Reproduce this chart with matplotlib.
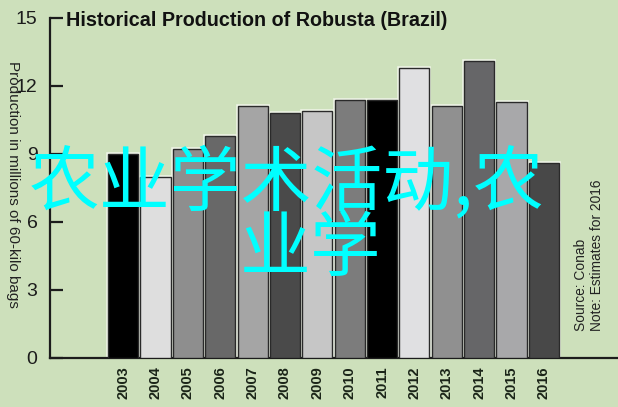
import matplotlib
matplotlib.use("Agg")
import matplotlib.pyplot as plt
import numpy as np

# Robusta production in Brazil, millions of 60-kilo bags
years = ["2003", "2004", "2005", "2006", "2007", "2008", "2009",
         "2010", "2011", "2012", "2013", "2014", "2015", "2016"]
production = [9.0, 8.0, 9.2, 9.8, 11.1, 10.8, 10.9,
              11.4, 11.4, 12.8, 11.1, 13.1, 11.3, 8.6]
bar_colors = ["#000000", "#dedede", "#8e8e8e", "#686868", "#a5a5a5",
              "#4a4a4a", "#c6c6c6", "#7c7c7c", "#000000", "#e0e0e2",
              "#909090", "#666668", "#a8a8aa", "#484848"]
y_ticks = [0, 3, 6, 9, 12, 15]

BG = "#cde0bb"
INK = "#1c1c1c"

plt.rcParams["font.family"] = ["Liberation Sans", "DejaVu Sans"]

fig = plt.figure(figsize=(6.18, 4.07), dpi=100, facecolor=BG)
ax = fig.add_axes([50 / 618, 49 / 407, 567 / 618, 340 / 407])
ax.set_facecolor(BG)

x = np.arange(len(years))
# light halo behind the dark bar outline
ax.bar(x, production, width=0.93, color=bar_colors, edgecolor="#eef3e6",
       linewidth=2.6, zorder=2)
ax.bar(x, production, width=0.93, color=bar_colors, edgecolor="#2a2a2a",
       linewidth=1.0, zorder=3)

ax.set_xlim(-2.26, 15.26)
ax.set_ylim(0, 15)
ax.set_yticks(y_ticks)
ax.set_xticks(x)
ax.set_xticklabels(years, rotation=90, fontweight="bold", fontsize=10.5,
                   family=["Liberation Sans Narrow", "Liberation Sans"],
                   color="#1a2418")
ax.tick_params(axis="x", length=0, pad=6)
ax.tick_params(axis="y", direction="in", length=9.5, width=1.6,
               labelsize=14, pad=9, colors=INK)

for side in ["top", "right"]:
    ax.spines[side].set_visible(False)
for side in ["left", "bottom"]:
    ax.spines[side].set_linewidth(1.6)
    ax.spines[side].set_color(INK)

fig.text(66 / 618, 1 - 26 / 407, "Historical Production of Robusta (Brazil)",
         fontsize=14.2, fontweight="bold", color="#111111", va="baseline")
fig.text(13 / 618, 1 - 184 / 407, "Production in millions of 60-kilo bags",
         rotation=270, fontsize=11, color="#222222", ha="center", va="center")
fig.text(589 / 618, 1 - 331 / 407, "Source: Conab\nNote: Estimates for 2016",
         rotation=90, fontsize=9.9, color="#222222", ha="center", va="bottom",
         multialignment="left", linespacing=1.1)

cjk = ["Noto Sans CJK SC", "DejaVu Sans"]
fig.text(29 / 618, 1 - 205 / 407, "农业学术活动,农", family=cjk,
         fontsize=51, color="#00ffff", va="baseline", zorder=5)
fig.text(240 / 618, 1 - 270 / 407, "业学", family=cjk,
         fontsize=51, color="#00ffff", va="baseline", zorder=5)

fig.savefig("out.png", dpi=100, facecolor=BG)
